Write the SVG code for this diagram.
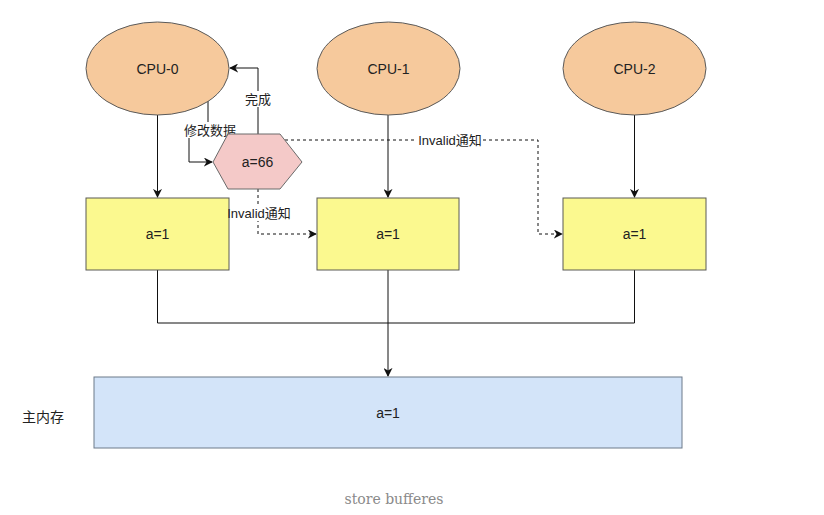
<svg xmlns="http://www.w3.org/2000/svg" width="824" height="515" viewBox="0 0 824 515">
<style>
.cpu{fill:#F6C99C;stroke:#5a5a5a;stroke-width:1}
.buf{fill:#FBF98F;stroke:#5a5a55;stroke-width:1}
.mem{fill:#D3E4F9;stroke:#6c7a8a;stroke-width:1}
.hex{fill:#F4C9C8;stroke:#6a6a6a;stroke-width:1}
.t{font-family:"Liberation Sans","Noto Sans CJK SC",Arial,sans-serif;font-size:14px;fill:#222;text-anchor:middle;dominant-baseline:central}
.lbl{font-family:"Liberation Sans","Noto Sans CJK SC",Arial,sans-serif;font-size:13px;fill:#222;text-anchor:middle;dominant-baseline:central}
.ln{fill:none;stroke:#111;stroke-width:1}
.dash{fill:none;stroke:#111;stroke-width:1;stroke-dasharray:3 3}
.bg{fill:#fff}
</style>
<defs>
<marker id="ah" viewBox="0 0 10 10" refX="9" refY="5" markerWidth="9" markerHeight="9" markerUnits="userSpaceOnUse" orient="auto">
<path d="M0,0 L10,5 L0,10 L3,5 Z" fill="#111"/>
</marker>
</defs>
<rect width="824" height="515" fill="#fff"/>
<g id="connectors">
<line class="ln" x1="157.5" y1="115" x2="157.5" y2="197" marker-end="url(#ah)"/>
<line class="ln" x1="388" y1="115" x2="388" y2="197" marker-end="url(#ah)"/>
<line class="ln" x1="634.5" y1="115" x2="634.5" y2="197" marker-end="url(#ah)"/>
<polyline class="ln" points="157.5,270 157.5,323 634.5,323 634.5,270"/>
<line class="ln" x1="388" y1="270" x2="388" y2="376" marker-end="url(#ah)"/>
<polyline class="ln" points="258,134 258,68 230,68" marker-end="url(#ah)"/>
<polyline class="ln" points="208,101 208,130 189,130 189,162 212,162" marker-end="url(#ah)"/>
<polyline class="dash" points="258,189 258,234 316,234" marker-end="url(#ah)"/>
<polyline class="dash" points="285,140 538,140 538,234 562,234" marker-end="url(#ah)"/>
<rect class="bg" x="242" y="91" width="32" height="16"/>
<text class="lbl" x="258" y="99">完成</text>
<rect class="bg" x="182" y="122" width="56" height="16"/>
<text class="lbl" x="210" y="130">修改数据</text>
<rect class="bg" x="230" y="205" width="61" height="16"/>
<rect class="bg" x="417" y="132" width="66" height="16"/>
<text class="lbl" x="450" y="140">Invalid通知</text>
</g>
<g id="cpu0"><ellipse class="cpu" cx="157.5" cy="68.5" rx="71.5" ry="46.5"/><text class="t" x="157.5" y="68.5">CPU-0</text></g>
<g id="cpu1"><ellipse class="cpu" cx="388.5" cy="68.5" rx="71.5" ry="46.5"/><text class="t" x="388.5" y="68.5">CPU-1</text></g>
<g id="cpu2"><ellipse class="cpu" cx="634.5" cy="68.5" rx="71.5" ry="46.5"/><text class="t" x="634.5" y="68.5">CPU-2</text></g>
<g id="hex"><polygon class="hex" points="213,162 228,134 280,134 302,162 280,189 228,189"/><text class="t" x="257.5" y="162">a=66</text></g>
<g id="buf0"><rect class="buf" x="86" y="198" width="143" height="72"/><text class="t" x="157.5" y="234">a=1</text></g>
<g id="buf1"><rect class="buf" x="317" y="198" width="142" height="72"/><text class="t" x="388" y="234">a=1</text></g>
<g id="buf2"><rect class="buf" x="563" y="198" width="143" height="72"/><text class="t" x="634.5" y="234">a=1</text></g>
<g id="mem"><rect class="mem" x="94" y="377" width="588" height="71"/><text class="t" x="388" y="413">a=1</text></g>
<g id="memlabel"><text class="t" x="43" y="417">主内存</text></g>
<g id="invlabel"><text class="lbl" x="259" y="213">Invalid通知</text></g>
<g id="caption"><text x="394" y="499" font-family="'DejaVu Serif','Liberation Serif',serif" font-size="14" fill="#8a8a8a" text-anchor="middle" dominant-baseline="central">store bufferes</text></g>
</svg>
